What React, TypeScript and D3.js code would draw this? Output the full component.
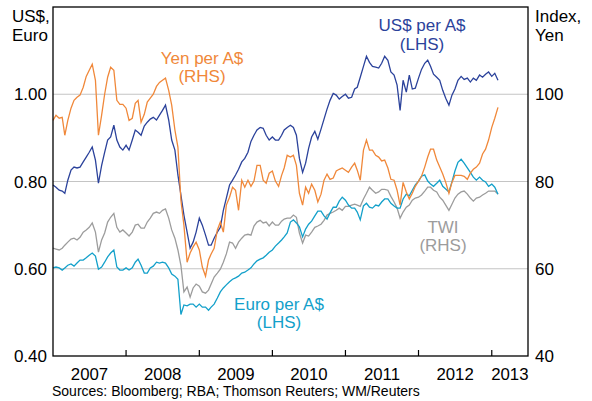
import * as d3 from "d3";
import { useEffect } from "react";

// semi-monthly readings (1st and 16th of each month), Jan 2007 to Feb 2013
const usdPerAud = [
  0.792, 0.787, 0.780, 0.778, 0.773, 0.803, 0.826, 0.833, 0.831, 0.833,
  0.845, 0.856, 0.867, 0.879, 0.849, 0.796, 0.837, 0.867, 0.895, 0.902,
  0.929, 0.895, 0.879, 0.872, 0.883, 0.872, 0.895, 0.918, 0.913, 0.906,
  0.927, 0.936, 0.943, 0.947, 0.941, 0.952, 0.963, 0.975, 0.941, 0.895,
  0.872, 0.815, 0.769, 0.723, 0.684, 0.647, 0.661, 0.684, 0.716, 0.700,
  0.677, 0.654, 0.654, 0.670, 0.684, 0.695, 0.734, 0.762, 0.792, 0.803,
  0.815, 0.828, 0.845, 0.853, 0.867, 0.892, 0.906, 0.918, 0.924, 0.922,
  0.906, 0.895, 0.902, 0.895, 0.895, 0.906, 0.918, 0.924, 0.929, 0.924,
  0.906, 0.853, 0.821, 0.842, 0.876, 0.902, 0.915, 0.897, 0.920, 0.943,
  0.966, 0.986, 1.002, 0.998, 0.989, 0.995, 1.000, 0.991, 0.993, 1.012,
  1.016, 1.039, 1.064, 1.087, 1.073, 1.064, 1.062, 1.060, 1.071, 1.087,
  1.078, 1.051, 1.044, 1.021, 0.963, 1.032, 1.005, 1.044, 1.012, 1.014,
  1.037, 1.057, 1.071, 1.078, 1.064, 1.046, 1.039, 1.032, 1.009, 0.991,
  0.975, 0.998, 1.012, 1.032, 1.041, 1.034, 1.037, 1.028, 1.037, 1.032,
  1.044, 1.039, 1.046, 1.051, 1.041, 1.048, 1.032,
];

const yenPerAud = [
  94.0, 95.2, 94.5, 94.7, 90.6, 94.0, 96.8, 98.6, 99.3, 99.8,
  101.6, 104.1, 105.5, 106.9, 103.2, 90.6, 95.2, 100.0, 103.9, 106.2,
  105.5, 98.6, 97.7, 97.7, 96.8, 94.0, 94.5, 97.9, 98.6, 93.6,
  95.4, 98.2, 99.1, 100.0, 101.8, 102.7, 103.2, 103.7, 100.9, 97.5,
  91.8, 87.9, 75.7, 70.0, 61.5, 63.6, 65.0, 66.1, 64.3, 60.4,
  58.3, 62.0, 63.4, 64.7, 68.9, 70.7, 68.4, 74.6, 76.4, 78.7,
  78.0, 73.4, 80.3, 78.7, 80.3, 78.9, 80.1, 83.7, 83.7, 80.3,
  79.6, 81.9, 82.4, 80.1, 78.9, 81.4, 83.1, 86.0, 85.6, 86.0,
  83.7, 77.3, 74.6, 78.7, 77.3, 79.4, 78.0, 75.3, 77.1, 80.3,
  81.7, 80.5, 80.8, 82.4, 82.8, 83.1, 82.6, 82.1, 83.3, 84.2,
  82.6, 80.3, 87.2, 89.5, 87.2, 87.2, 86.0, 85.6, 84.7, 84.9,
  83.1, 80.5, 80.3, 78.0, 74.6, 79.8, 77.6, 76.0, 77.3, 78.9,
  80.1, 81.2, 83.3, 85.6, 87.4, 87.4, 84.9, 83.3, 81.7, 79.8,
  77.3, 79.8, 81.4, 81.4, 81.4, 81.2, 80.5, 81.9, 82.8, 83.3,
  84.2, 86.3, 87.4, 89.5, 92.4, 94.5, 97.0,
];

const twi = [
  64.7, 64.5, 64.3, 64.7, 65.4, 66.1, 66.8, 67.0, 66.6, 67.2,
  68.4, 68.9, 69.5, 70.5, 68.4, 63.8, 66.6, 68.2, 70.7, 71.8,
  72.7, 69.5, 68.4, 68.9, 68.2, 67.5, 68.4, 70.0, 70.2, 69.3,
  69.3, 70.7, 71.6, 72.7, 73.0, 72.7, 73.4, 73.7, 71.6, 68.9,
  67.0, 64.3, 60.8, 54.7, 55.8, 53.5, 55.6, 56.5, 56.0, 54.7,
  54.4, 55.1, 56.5, 58.1, 59.0, 59.9, 61.5, 63.4, 66.1, 65.9,
  64.7, 66.1, 67.0, 67.7, 67.9, 67.7, 69.8, 70.7, 71.1, 70.5,
  70.7, 69.8, 70.7, 70.0, 70.0, 70.9, 71.4, 71.6, 71.6, 72.3,
  71.8, 68.2, 65.9, 67.7, 67.5, 68.4, 69.5, 69.8, 70.2, 71.1,
  72.3, 72.7, 73.0, 73.4, 73.9, 73.4, 74.3, 74.3, 74.6, 74.8,
  74.6, 74.3, 76.0, 77.3, 78.7, 78.0, 77.3, 77.6, 78.2, 78.2,
  78.0, 76.6, 75.3, 73.9, 71.6, 73.0, 74.1, 74.6, 75.7, 76.2,
  76.4, 76.9, 77.8, 78.7, 78.7, 78.0, 77.6, 76.4, 75.7, 74.6,
  73.4, 74.8, 76.2, 77.1, 77.6, 77.8, 77.1, 76.2, 75.5, 76.2,
  76.4, 76.9, 77.3, 77.8, 77.8, 77.8, 77.1,
];

const euroPerAud = [
  0.602, 0.604, 0.602, 0.597, 0.602, 0.608, 0.611, 0.606, 0.613, 0.620,
  0.620, 0.625, 0.631, 0.636, 0.629, 0.599, 0.604, 0.615, 0.627, 0.636,
  0.643, 0.604, 0.597, 0.597, 0.602, 0.597, 0.602, 0.615, 0.622, 0.608,
  0.590, 0.590, 0.602, 0.606, 0.615, 0.613, 0.615, 0.613, 0.602, 0.588,
  0.583, 0.576, 0.495, 0.517, 0.515, 0.519, 0.519, 0.512, 0.519, 0.512,
  0.512, 0.505, 0.512, 0.519, 0.533, 0.547, 0.556, 0.563, 0.570, 0.576,
  0.579, 0.583, 0.590, 0.592, 0.597, 0.602, 0.611, 0.618, 0.622, 0.625,
  0.631, 0.638, 0.643, 0.652, 0.659, 0.666, 0.673, 0.682, 0.707, 0.712,
  0.705, 0.696, 0.673, 0.691, 0.702, 0.709, 0.721, 0.732, 0.732, 0.721,
  0.714, 0.728, 0.741, 0.741, 0.755, 0.764, 0.757, 0.746, 0.739, 0.739,
  0.730, 0.712, 0.744, 0.750, 0.741, 0.739, 0.746, 0.744, 0.753, 0.760,
  0.760, 0.750, 0.744, 0.739, 0.739, 0.760, 0.771, 0.767, 0.780, 0.792,
  0.801, 0.812, 0.815, 0.801, 0.794, 0.789, 0.796, 0.803, 0.789, 0.783,
  0.776, 0.799, 0.824, 0.844, 0.851, 0.842, 0.831, 0.821, 0.810, 0.803,
  0.810, 0.803, 0.799, 0.789, 0.794, 0.787, 0.771,
];

const leftTicks = [0.4, 0.6, 0.8, 1.0];
const rightTicks = [40, 60, 80, 100];
const yearLabels = [2007, 2008, 2009, 2010, 2011, 2012, 2013];
const sourceNote = "Sources: Bloomberg; RBA; Thomson Reuters; WM/Reuters";

const W = 592;
const H = 401;
const margin = { top: 7, right: 64, bottom: 45, left: 53 };
const font = "'Liberation Sans', Arial, sans-serif";

const blue = "#2B429B";
const orange = "#F0883A";
const cyan = "#13A0CA";
const grey = "#9C9C9C";

const dates = usdPerAud.map(
  (_, i) => new Date(2007 + Math.floor(i / 24), Math.floor((i % 24) / 2), i % 2 ? 16 : 1)
);

export default function App() {
  useEffect(() => {
    document.body.style.margin = "0";
  }, []);

  const x = d3
    .scaleTime()
    .domain([new Date(2007, 0, 1), new Date(2013, 6, 1)])
    .range([margin.left, W - margin.right]);
  const yL = d3.scaleLinear().domain([0.4, 1.2]).range([H - margin.bottom, margin.top]);
  const yR = d3.scaleLinear().domain([40, 120]).range([H - margin.bottom, margin.top]);

  const lineL = d3
    .line<number>()
    .x((_, i) => x(dates[i]))
    .y((d) => yL(d));
  const lineR = d3
    .line<number>()
    .x((_, i) => x(dates[i]))
    .y((d) => yR(d));

  const x0 = margin.left;
  const x1 = W - margin.right;
  const yTop = margin.top;
  const yBot = H - margin.bottom;
  const end = x.domain()[1];

  return (
    <svg width={W} height={H} style={{ display: "block", fontFamily: font }}>
      <rect x={0} y={0} width={W} height={H} fill="#fff" />
      {leftTicks.slice(1).map((t) => (
        <line key={t} x1={x0} x2={x1} y1={yL(t)} y2={yL(t)} stroke="#c4c4c4" strokeWidth={1.2} />
      ))}
      <path d={lineR(twi) || ""} fill="none" stroke={grey} strokeWidth={1.3} />
      <path d={lineL(euroPerAud) || ""} fill="none" stroke={cyan} strokeWidth={1.3} />
      <path d={lineL(usdPerAud) || ""} fill="none" stroke={blue} strokeWidth={1.3} />
      <path d={lineR(yenPerAud) || ""} fill="none" stroke={orange} strokeWidth={1.3} />

      {yearLabels.slice(1).map((yr) => {
        const xx = x(new Date(yr, 0, 1));
        return <line key={yr} x1={xx} x2={xx} y1={yBot} y2={yBot - 6} stroke="#000" strokeWidth={1.2} />;
      })}
      <rect x={x0} y={yTop} width={x1 - x0} height={yBot - yTop} fill="none" stroke="#000" strokeWidth={1.3} />

      {leftTicks.map((t) => (
        <text key={t} x={47} y={yL(t)} dy="0.36em" textAnchor="end" fontSize={17}>
          {t.toFixed(2)}
        </text>
      ))}
      {rightTicks.map((t) => (
        <text key={t} x={535} y={yR(t)} dy="0.36em" fontSize={17}>
          {t}
        </text>
      ))}
      <text x={12} y={22} fontSize={17}>US$,</text>
      <text x={12} y={41} fontSize={17}>Euro</text>
      <text x={535} y={22} fontSize={17}>Index,</text>
      <text x={535} y={41} fontSize={17}>Yen</text>

      {yearLabels.map((yr) => {
        const a = x(new Date(yr, 0, 1));
        const b = x(d3.min([new Date(yr + 1, 0, 1), end]) as Date);
        return (
          <text key={yr} x={(a + b) / 2} y={380} textAnchor="middle" fontSize={16.8}>
            {yr}
          </text>
        );
      })}
      <text x={52} y={396} fontSize={14}>{sourceNote}</text>

      <g textAnchor="middle" fontSize={17}>
        <text x={422} y={31} fill={blue}>US$ per A$</text>
        <text x={422} y={50} fill={blue}>(LHS)</text>
        <text x={202} y={64} fill={orange}>Yen per A$</text>
        <text x={202} y={82} fill={orange}>(RHS)</text>
        <text x={279} y={310} fill={cyan}>Euro per A$</text>
        <text x={279} y={328} fill={cyan}>(LHS)</text>
        <text x={443} y={233} fill={grey}>TWI</text>
        <text x={443} y={251} fill={grey}>(RHS)</text>
      </g>
    </svg>
  );
}
